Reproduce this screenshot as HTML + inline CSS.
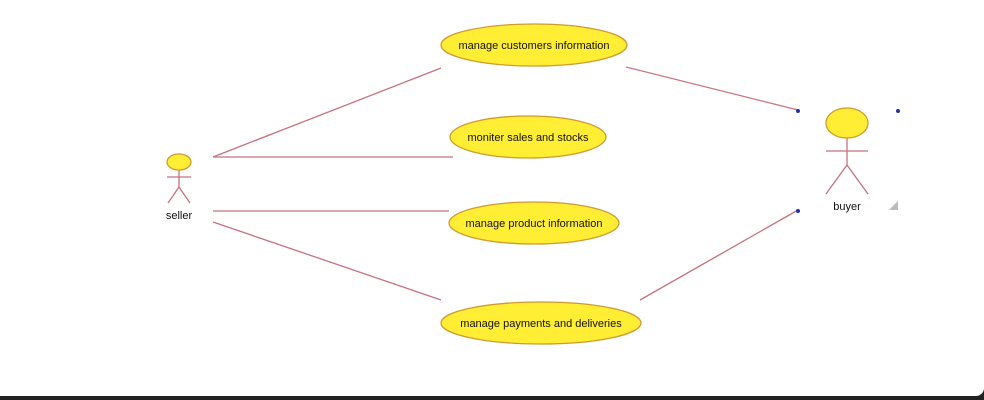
<!DOCTYPE html>
<html><head><style>
html,body{margin:0;padding:0;width:984px;height:400px;overflow:hidden;background:#222;}
#c{position:absolute;left:0;top:0;width:984px;height:396px;background:#fff;border-bottom-right-radius:8px;}
svg{position:absolute;left:0;top:0}
text{font-family:"Liberation Sans",sans-serif;font-size:11px;fill:#111;text-anchor:middle;}
</style></head><body>
<div id="c"></div>
<svg width="984" height="400">
<g stroke="#c87080" stroke-width="1.3" fill="none">
<line x1="213" y1="157" x2="441" y2="68"/>
<line x1="213" y1="157" x2="453" y2="157"/>
<line x1="213" y1="211" x2="449" y2="211"/>
<line x1="213" y1="222" x2="441" y2="300"/>
<line x1="626" y1="67" x2="798" y2="110"/>
<line x1="640" y1="300" x2="798" y2="210"/>
<line x1="179" y1="170" x2="179" y2="187"/>
<line x1="167" y1="177" x2="191" y2="177"/>
<line x1="179" y1="187" x2="168" y2="203"/>
<line x1="179" y1="187" x2="190" y2="203"/>
<line x1="847" y1="138" x2="847" y2="165"/>
<line x1="826" y1="151" x2="868" y2="151"/>
<line x1="847" y1="165" x2="826" y2="194"/>
<line x1="847" y1="165" x2="868" y2="194"/>
</g>
<g fill="#ffee33" stroke="#d09a30" stroke-width="1.3">
<ellipse cx="179" cy="162" rx="12" ry="8"/>
<ellipse cx="847" cy="123" rx="21" ry="15"/>
<ellipse cx="534" cy="45" rx="93" ry="21"/>
<ellipse cx="528" cy="137" rx="78" ry="21"/>
<ellipse cx="534" cy="223" rx="85" ry="21"/>
<ellipse cx="541" cy="323" rx="100" ry="21"/>
</g>
<g fill="#2233aa">
<circle cx="798" cy="111" r="2"/><circle cx="898" cy="111" r="2"/><circle cx="798" cy="211" r="2"/>
</g>
<path d="M889 210 L898 201 L898 210 Z" fill="#bbb"/>
<text x="534" y="49">manage customers information</text>
<text x="528" y="141">moniter sales and stocks</text>
<text x="534" y="227">manage product information</text>
<text x="541" y="327">manage payments and deliveries</text>
<text x="179" y="219" fill="#444">seller</text>
<text x="847" y="210" fill="#444">buyer</text>
</svg>
</body></html>
